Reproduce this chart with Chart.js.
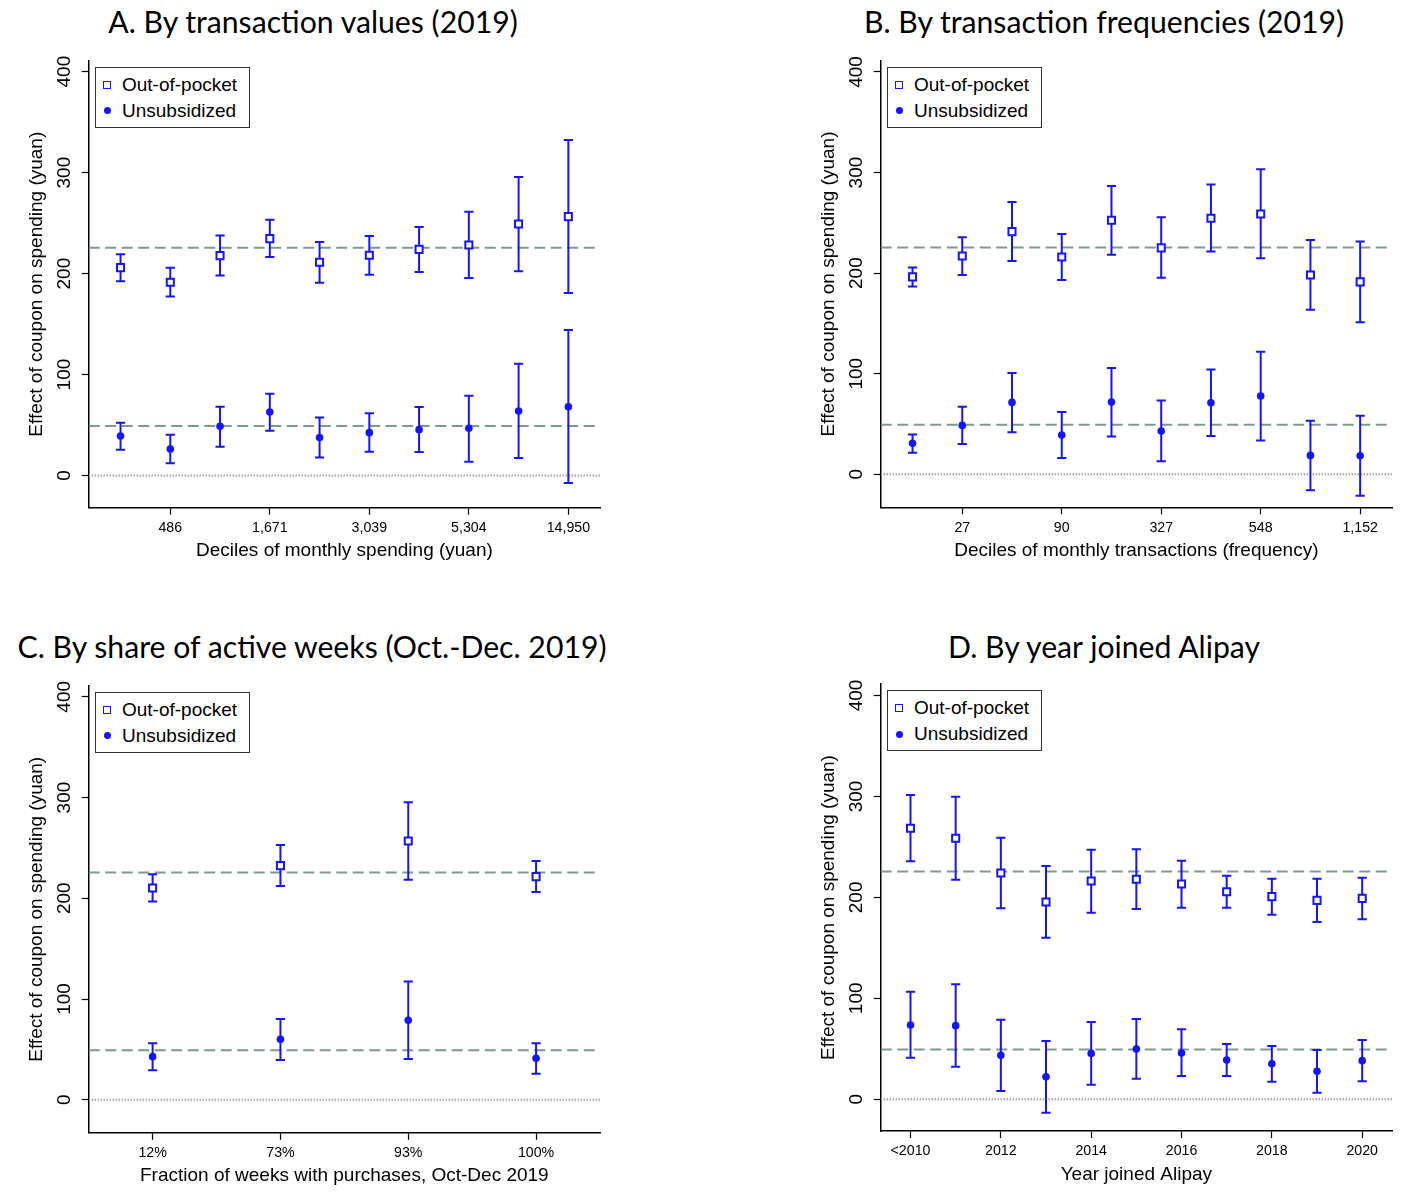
<!DOCTYPE html>
<html><head><meta charset="utf-8">
<script src="https://cdn.jsdelivr.net/npm/chart.js@4.4.1/dist/chart.umd.min.js"></script>
<style>
html,body{margin:0;padding:0;background:#fff;}
body{width:1422px;height:1204px;position:relative;overflow:hidden;font-family:"Liberation Sans",Arial,sans-serif;}
.wrap{position:absolute;}
.title{position:absolute;font-family:Lato,"DejaVu Sans",sans-serif;font-size:30.2px;line-height:40px;white-space:nowrap;transform:translateX(-50%);color:#000;}
.legend{position:absolute;width:155px;height:61px;border:1px solid #333;background:#fff;box-sizing:border-box;}
.legend .txt{position:absolute;left:26px;font-size:19px;line-height:22px;color:#000;white-space:nowrap;}
.legend .sq{position:absolute;left:7px;width:8px;height:8px;border:1.8px solid #1414ff;box-sizing:border-box;background:#fff;}
.legend .ci{position:absolute;left:7.5px;width:7px;height:7px;border-radius:50%;background:#1414ff;}
</style>
</head><body>

<div class="title" style="left:313px;top:1px">A. By transaction values (2019)</div>
<div class="title" style="left:1104px;top:1px">B. By transaction frequencies (2019)</div>
<div class="title" style="left:312px;top:626px">C. By share of active weeks (Oct.-Dec. 2019)</div>
<div class="title" style="left:1104px;top:626px">D. By year joined Alipay</div>

<div class="wrap" style="left:0px;top:30px;width:790px;height:560px"><canvas id="cA"></canvas></div>
<div class="wrap" style="left:792px;top:30px;width:630px;height:560px"><canvas id="cB"></canvas></div>
<div class="wrap" style="left:0px;top:655px;width:790px;height:549px"><canvas id="cC"></canvas></div>
<div class="wrap" style="left:792px;top:655px;width:630px;height:549px"><canvas id="cD"></canvas></div>

<script>
// ---------------- DATA ----------------
const legendLabels = ['Out-of-pocket', 'Unsubsidized'];
const yTitle = 'Effect of coupon on spending (yuan)';
const yTickValues = [0, 100, 200, 300, 400];
const oopMean = 225.6;     // dashed reference line, out-of-pocket
const unsMean = 49.2;      // dashed reference line, unsubsidized

// Panel A: by transaction values
const aX = [1,2,3,4,5,6,7,8,9,10];
const aTickValues = [2,4,6,8,10];
const aTickLabels = ['486','1,671','3,039','5,304','14,950'];
const aXTitle = 'Deciles of monthly spending (yuan)';
const aOop   = [205.9,191.4,217.8,234.6,211.2,218.1,224.0,228.3,249.1,256.4];
const aOopLo = [192.3,177.2,198.0,216.4,191.0,198.9,201.6,195.6,202.2,180.8];
const aOopHi = [219.1,205.9,237.6,253.4,231.3,237.2,246.1,261.3,295.6,332.3];
const aUns   = [39.2,26.3,48.8,63.0,37.6,42.5,45.5,46.8,64.0,68.2];
const aUnsLo = [25.7,12.1,28.6,44.5,17.8,23.7,23.4,13.8,17.4,-7.3];
const aUnsHi = [52.4,40.5,68.2,81.1,57.4,61.7,67.9,79.1,110.8,144.2];

// Panel B: by transaction frequencies
const bX = [1,2,3,4,5,6,7,8,9,10];
const bTickValues = [2,4,6,8,10];
const bTickLabels = ['27','90','327','548','1,152'];
const bXTitle = 'Deciles of monthly transactions (frequency)';
const bOop   = [196.3,217.1,241.3,216.1,252.5,225.1,254.5,258.8,198.2,191.3];
const bOopLo = [186.7,198.2,212.1,193.3,218.4,195.3,221.4,214.8,163.5,151.2];
const bOopHi = [205.5,235.6,270.7,239.0,286.6,255.5,288.0,303.2,233.0,231.4];
const bUns   = [30.8,48.6,71.5,39.0,71.8,43.0,71.1,77.8,18.8,18.5];
const bUnsLo = [21.5,30.1,41.7,16.2,37.7,12.9,38.0,33.7,-15.9,-21.2];
const bUnsHi = [39.7,67.2,100.6,61.9,105.6,73.5,104.2,121.8,53.3,58.2];

// Panel C: by share of active weeks
const cX = [1,2,3,4];
const cTickValues = [1,2,3,4];
const cTickLabels = ['12%','73%','93%','100%'];
const cXTitle = 'Fraction of weeks with purchases, Oct-Dec 2019';
const cOop   = [210.2,232.4,256.9,221.5];
const cOopLo = [196.7,212.2,218.5,206.3];
const cOopHi = [223.8,252.9,295.3,237.0];
const cUns   = [42.8,60.0,78.9,41.2];
const cUnsLo = [29.3,39.5,40.5,25.9];
const cUnsHi = [56.0,80.2,117.3,56.0];

// Panel D: by year joined Alipay
const dX = [2010,2011,2012,2013,2014,2015,2016,2017,2018,2019,2020];
const dTickValues = [2010,2012,2014,2016,2018,2020];
const dTickLabels = ['<2010','2012','2014','2016','2018','2020'];
const dXTitle = 'Year joined Alipay';
const dOop   = [268.4,258.5,224.1,195.4,216.2,217.9,213.2,205.6,200.7,197.0,199.0];
const dOopLo = [235.7,217.5,189.1,160.0,184.8,188.5,189.8,189.8,182.8,175.6,178.2];
const dOopHi = [301.4,299.8,259.1,231.1,247.2,247.6,236.3,221.5,218.5,218.5,219.5];
const dUns   = [73.5,72.9,43.5,22.3,45.4,49.7,45.8,38.8,35.2,27.6,38.2];
const dUnsLo = [41.1,32.2,8.1,-13.3,14.4,20.3,23.0,23.0,17.4,6.5,17.7];
const dUnsHi = [106.5,113.8,78.8,57.7,76.5,79.5,69.2,54.7,52.7,48.7,58.7];

// ---------------- STYLE / LAYOUT ----------------
const BLUE = '#1414ff';
const REF = '#7d9a8e';
const FONT = '"Liberation Sans", Arial, sans-serif';

function pts(xs, ys){ return xs.map((x,i)=>({x:x, y:ys[i]})); }
function bars(xs, lo, hi){
  const out = [];
  xs.forEach((x,i)=>{ out.push({x:x,y:lo[i]}); out.push({x:x,y:hi[i]}); out.push({x:x,y:null}); });
  return out;
}

function makePanel(id, cv, area, yr, xr, d){
  const canvas = document.getElementById(id);
  canvas.width = cv.w; canvas.height = cv.h;
  canvas.style.width = cv.w+'px'; canvas.style.height = cv.h+'px';
  const yAxisW = area.l - cv.left;
  const xAxisH = (cv.top + cv.h) - area.b;
  const xTitlePadBottom = (cv.top + cv.h) - (area.b + 43.3) - 11.4;

  const ebStyle = {type:'scatter', showLine:true, spanGaps:false, borderColor:BLUE, borderWidth:2,
    pointStyle:'line', pointRadius:4.6, pointBorderWidth:2, pointBorderColor:BLUE, pointBackgroundColor:BLUE,
    pointHoverRadius:4.6, order:1};

  const datasets = [
    {label:legendLabels[0], data:pts(d.x,d.oop), pointStyle:'rect', pointRadius:5, pointBorderWidth:2,
      pointBorderColor:BLUE, pointBackgroundColor:'#fff', borderColor:BLUE, backgroundColor:'#fff', showLine:false, order:0},
    {label:legendLabels[1], data:pts(d.x,d.uns), pointStyle:'circle', pointRadius:3.8, pointBorderWidth:0,
      pointBorderColor:BLUE, pointBackgroundColor:BLUE, borderColor:BLUE, backgroundColor:BLUE, showLine:false, order:0},
    Object.assign({label:'ci-oop', data:bars(d.x,d.oopLo,d.oopHi)}, ebStyle),
    Object.assign({label:'ci-uns', data:bars(d.x,d.unsLo,d.unsHi)}, ebStyle),
    {label:'mean-oop', data:[{x:xr[0],y:oopMean},{x:xr[1],y:oopMean}], showLine:true, borderColor:REF, borderWidth:2,
      borderDash:[11,5.5], pointRadius:0, order:2},
    {label:'mean-uns', data:[{x:xr[0],y:unsMean},{x:xr[1],y:unsMean}], showLine:true, borderColor:REF, borderWidth:2,
      borderDash:[11,5.5], pointRadius:0, order:2},
    {label:'zero', data:[{x:xr[0],y:0},{x:xr[1],y:0}], showLine:true, borderColor:'#8a8a8a', borderWidth:2.5,
      borderDash:[1,2], pointRadius:0, order:3}
  ];

  new Chart(canvas, {
    type:'scatter',
    data:{datasets:datasets},
    options:{
      responsive:false, animation:false, events:[],
      layout:{padding:{left:0, top:area.t-cv.top, right:(cv.left+cv.w)-area.r, bottom:0}},
      plugins:{legend:{display:false}, tooltip:{enabled:false}, title:{display:false}},
      scales:{
        x:{type:'linear', min:xr[0], max:xr[1],
          afterBuildTicks:(s)=>{ s.ticks = d.tv.map(v=>({value:v})); },
          afterFit:(s)=>{ s.height = xAxisH; },
          ticks:{callback:(v,i)=>d.tl[i], font:{family:FONT,size:14.2}, color:'#000', padding:5, autoSkip:false, maxRotation:0, minRotation:0},
          grid:{drawOnChartArea:false, drawTicks:true, tickLength:7, tickColor:'#000', tickWidth:1.2},
          border:{display:true, color:'#000', width:1.5},
          title:{display:true, text:d.xtitle, color:'#000', font:{family:FONT,size:19,lineHeight:1.2}, padding:{top:0,bottom:xTitlePadBottom}}
        },
        y:{type:'linear', min:yr[0], max:yr[1],
          afterBuildTicks:(s)=>{ s.ticks = yTickValues.map(v=>({value:v})); },
          afterFit:(s)=>{ s.width = yAxisW; },
          ticks:{font:{family:FONT,size:19}, color:'#000', padding:1, minRotation:90, maxRotation:90, crossAlign:'center'},
          grid:{drawOnChartArea:false, drawTicks:true, tickLength:7, tickColor:'#000', tickWidth:1.2},
          border:{display:true, color:'#000', width:1.5},
          title:{display:true, text:yTitle, color:'#000', font:{family:FONT,size:19,lineHeight:1.2}, padding:{top:25.6,bottom:0}}
        }
      }
    }
  });

  // legend box (inside plot region, top-left)
  const lg = document.createElement('div');
  lg.className = 'legend';
  lg.style.left = (area.l + 6.3) + 'px';
  lg.style.top = (area.t + 6) + 'px';
  lg.innerHTML = '<div class="sq" style="top:13px"></div><div class="txt" style="top:6px">'+legendLabels[0]+'</div>'+
                 '<div class="ci" style="top:39.5px"></div><div class="txt" style="top:32px">'+legendLabels[1]+'</div>';
  document.body.appendChild(lg);
}

makePanel('cA', {left:0,top:30,w:790,h:560}, {l:88.7,t:60.7,r:600.2,b:507.7}, [-31.8,410.8], [0.36,10.64],
  {x:aX, oop:aOop, oopLo:aOopLo, oopHi:aOopHi, uns:aUns, unsLo:aUnsLo, unsHi:aUnsHi, tv:aTickValues, tl:aTickLabels, xtitle:aXTitle});
makePanel('cB', {left:792,top:30,w:630,h:560}, {l:880.7,t:60.7,r:1392,b:507.3}, [-32.8,411.2], [0.36,10.64],
  {x:bX, oop:bOop, oopLo:bOopLo, oopHi:bOopHi, uns:bUns, unsLo:bUnsLo, unsHi:bUnsHi, tv:bTickValues, tl:bTickLabels, xtitle:bXTitle});
makePanel('cC', {left:0,top:655,w:790,h:549}, {l:88.7,t:685.8,r:600,b:1132.8}, [-32.8,410.9], [0.5,4.5],
  {x:cX, oop:cOop, oopLo:cOopLo, oopHi:cOopHi, uns:cUns, unsLo:cUnsLo, unsHi:cUnsHi, tv:cTickValues, tl:cTickLabels, xtitle:cXTitle});
makePanel('cD', {left:792,top:655,w:630,h:549}, {l:880.7,t:684.1,r:1392,b:1131}, [-31.5,411.3], [2009.34,2020.66],
  {x:dX, oop:dOop, oopLo:dOopLo, oopHi:dOopHi, uns:dUns, unsLo:dUnsLo, unsHi:dUnsHi, tv:dTickValues, tl:dTickLabels, xtitle:dXTitle});
</script>
</body></html>
